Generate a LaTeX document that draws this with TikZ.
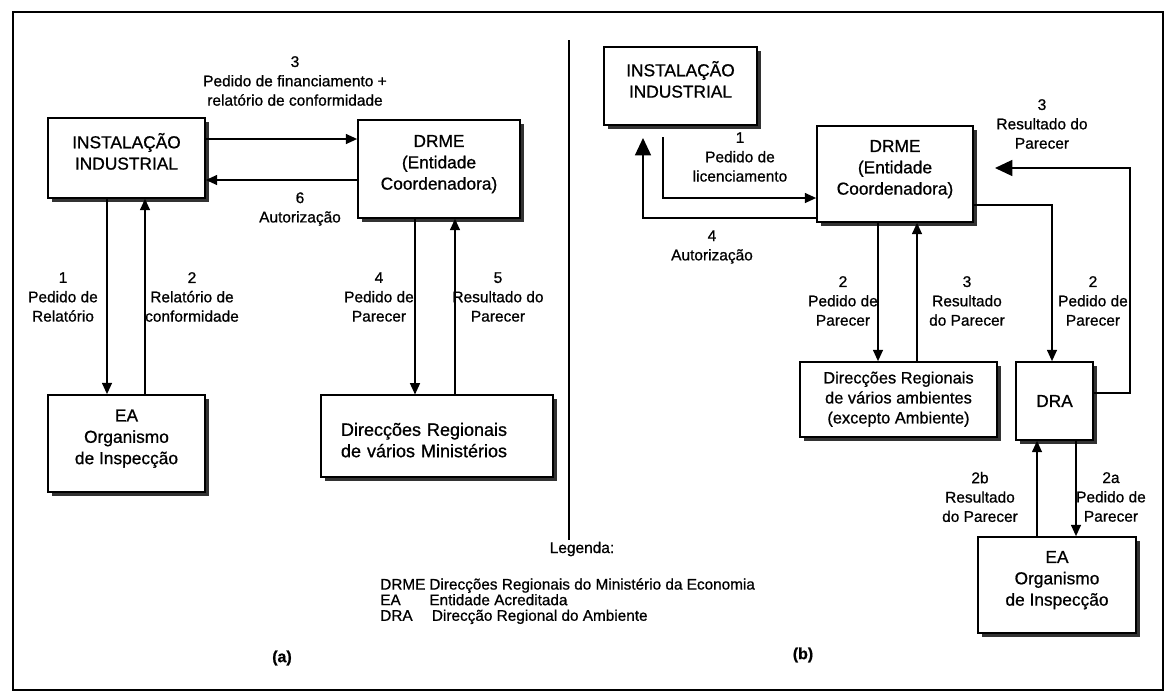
\documentclass[tikz,border=0pt]{standalone}
\usepackage{fontspec}
\setmainfont{Liberation Sans}[FakeBold=0.8]
\usetikzlibrary{arrows.meta, shadows}

\begin{document}
\begin{tikzpicture}[
  x=0.75pt, y=-0.75pt,
  box/.style={draw, line width=1.3pt, fill=white, align=center, inner sep=2pt,
              text depth=10pt, font=\fontsize{13}{16}\selectfont,
              drop shadow={shadow xshift=3pt, shadow yshift=-3pt,
                           fill=black!80, opacity=1}},
  lbl/.style={align=center, inner sep=0pt, font=\fontsize{11.6}{14.5}\selectfont},
  arr/.style={-{Triangle[length=8.5pt, width=7.5pt]}, line width=1.1pt},
  bigarr/.style={-{Triangle[length=13pt, width=12pt]}, line width=1.1pt},
  sep/.style={line width=1pt},
]
\useasboundingbox (0,0) rectangle (1167,697);

% ── frame and divider ───────────────────────────────────────────────────────
\draw[line width=2pt] (13,12) rectangle (1163,690);
\draw[sep] (569,40) -- (569,540);

% ── (a) boxes ───────────────────────────────────────────────────────────────
\node[box, minimum width=117.75pt, minimum height=60pt] (ia) at (126.5,158)
    {INSTALAÇÃO\\INDUSTRIAL};
\node[box, minimum width=121.5pt, minimum height=73.5pt] (drmea) at (439,169)
    {DRME\\(Entidade\\Coordenadora)};
\node[box, minimum width=117.75pt, minimum height=72.75pt] (eaa) at (126.5,443.5)
    {EA\\Organismo\\de Inspecção};
\node[box, align=left, text width=144pt, inner xsep=15pt, minimum height=61pt,
      font=\fontsize{13.5}{16}\selectfont] (dira) at (437,436)
    {Direcções Regionais\\de vários Ministérios};

% ── (a) labels ──────────────────────────────────────────────────────────────
\node[lbl] (lfin) at (295,81) {3\\Pedido de financiamento +\\relatório de conformidade};
\node[lbl] (laut) at (300,209) {6\\Autorização};
\node[lbl] (l1a) at (63,297) {1\\Pedido de\\Relatório};
\node[lbl] (l2a) at (192,297) {2\\Relatório de\\conformidade};
\node[lbl] (l4a) at (379,297) {4\\Pedido de\\Parecer};
\node[lbl] (l5a) at (498,297) {5\\Resultado do\\Parecer};

% ── (a) connectors ──────────────────────────────────────────────────────────
\coordinate (ya1) at (0,139);
\coordinate (ya2) at (0,180);
\coordinate (xa1) at (107,0);
\coordinate (xa2) at (145,0);
\coordinate (xa3) at (415,0);
\coordinate (xa4) at (455,0);
\draw[arr] (ia.east |- ya1) -- (drmea.west |- ya1);
\draw[arr] (drmea.west |- ya2) -- (ia.east |- ya2);
\draw[arr] (xa1 |- ia.south) -- (xa1 |- eaa.north);
\draw[arr] (xa2 |- eaa.north) -- (xa2 |- ia.south);
\draw[arr] (xa3 |- drmea.south) -- (xa3 |- dira.north);
\draw[arr] (xa4 |- dira.north) -- (xa4 |- drmea.south);

% ── (b) boxes ───────────────────────────────────────────────────────────────
\node[box, minimum width=114.75pt, minimum height=58.5pt] (ib) at (680.5,86)
    {INSTALAÇÃO\\INDUSTRIAL};
\node[box, minimum width=117pt, minimum height=72pt] (drmeb) at (895,174)
    {DRME\\(Entidade\\Coordenadora)};
\node[box, minimum width=147.75pt, minimum height=56.25pt, text depth=3pt,
      font=\fontsize{12.3}{15}\selectfont] (dirb) at (898.5,399.5)
    {Direcções Regionais\\de vários ambientes\\(excepto Ambiente)};
\node[box, minimum width=57.75pt, minimum height=58.5pt, text depth=0pt]
    (drab) at (1054.5,401) {DRA};
\node[box, minimum width=118.5pt, minimum height=72pt] (eab) at (1057,585)
    {EA\\Organismo\\de Inspecção};

% ── (b) labels ──────────────────────────────────────────────────────────────
\node[lbl] (l1b) at (740,157) {1\\Pedido de\\licenciamento};
\node[lbl] (l4b) at (712,247) {4\\Autorização};
\node[lbl] (l3top) at (1042,124) {3\\Resultado do\\Parecer};
\node[lbl] (l2b) at (843,301) {2\\Pedido de\\Parecer};
\node[lbl] (l3b) at (967,301) {3\\Resultado\\do Parecer};
\node[lbl] (l2dra) at (1093,301) {2\\Pedido de\\Parecer};
\node[lbl] (l2bb) at (980,497) {2b\\Resultado\\do Parecer};
\node[lbl] (l2ab) at (1111,497) {2a\\Pedido de\\Parecer};

% ── (b) connectors ──────────────────────────────────────────────────────────
\coordinate (b1s) at (663,137);
\coordinate (b4e) at (643,138);
\coordinate (b3e) at (995,168);
\coordinate (yb1) at (0,198);
\coordinate (yb2) at (0,205);
\coordinate (yb3) at (0,393);
\coordinate (yb4) at (0,218);
\coordinate (xb1) at (878,0);
\coordinate (xb2) at (917,0);
\coordinate (xb3) at (1052,0);
\coordinate (xb4) at (1130,0);
\coordinate (xb5) at (1037,0);
\coordinate (xb6) at (1076,0);
\draw[arr] (b1s) |- (drmeb.west |- yb1);
\draw[bigarr] (drmeb.west |- yb4) -| (b4e);
\draw[arr] (xb1 |- drmeb.south) -- (xb1 |- dirb.north);
\draw[arr] (xb2 |- dirb.north) -- (xb2 |- drmeb.south);
\draw[arr] (drmeb.east |- yb2) -| (xb3 |- drab.north);
\draw[bigarr] (drab.east |- yb3) -| (xb4 |- b3e) -- (b3e);
\draw[arr] (xb6 |- drab.south) -- (xb6 |- eab.north);
\draw[arr] (xb5 |- eab.north) -- (xb5 |- drab.south);

% ── legend and captions ─────────────────────────────────────────────────────
\node[lbl] (leg) at (582,549) {Legenda:};
\node[lbl, anchor=north west, align=left, font=\fontsize{11.5}{11.25}\selectfont]
    (legtab) at (380,578)
    {\begin{tabular}{@{}l@{\hspace{3pt}}l@{}}
      DRME & Direcções Regionais do Ministério da Economia\\
      EA   & Entidade Acreditada\\
      DRA  & \,Direcção Regional do Ambiente
     \end{tabular}};
\node[lbl, font=\fontsize{12}{14}\selectfont\bfseries] (capa) at (282,658) {(a)};
\node[lbl, font=\fontsize{12}{14}\selectfont\bfseries] (capb) at (803,655) {(b)};

\end{tikzpicture}
\end{document}
